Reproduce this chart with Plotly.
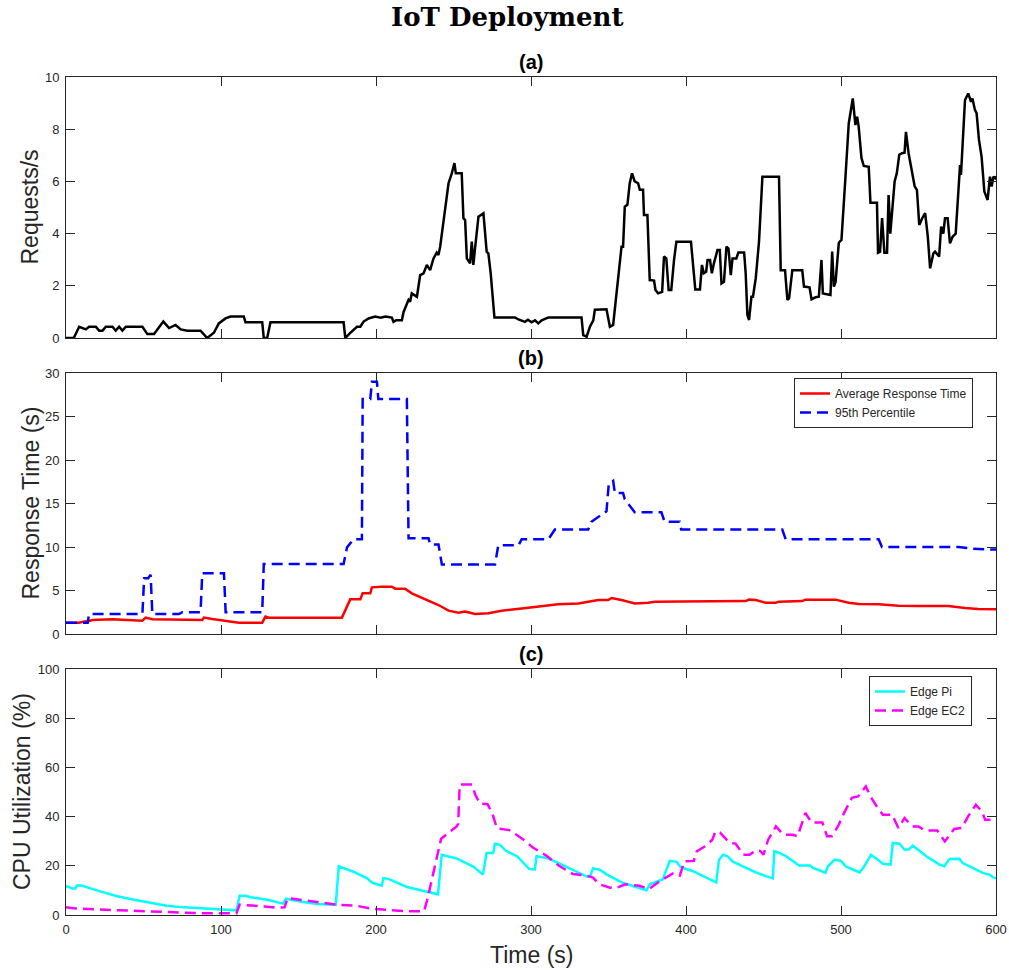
import plotly.graph_objects as go

# ---------------- data ----------------
req_t = [0, 5, 8.5, 12.8, 14.9, 19.2, 21.4, 23.5, 25.7, 30, 32.1, 34.3, 36.4, 38.6, 49.3, 52.5, 56.8,
         58.9, 62.8, 66.5, 70.7, 74, 78.3, 86.8, 91.1, 95.4, 98.6, 102.9, 106.2, 114.7, 115.8, 126.6,
         127.6, 129.8, 131.9, 179.1, 180.2, 183.4, 187.7, 189.9, 192, 195.2, 199.5, 203, 206, 210.2,
         211.3, 213, 216.7, 217.8, 219.9, 221, 222, 223.1, 226.4, 228.5, 230.7, 232.8, 234.9, 237.1,
         239.2, 240.3, 241.4, 244.6, 246.8, 248.9, 250.6, 251.5, 255.3, 256.4, 257.5, 258.6, 260.7,
         261.8, 262.8, 263.9, 266.1, 269.3, 271.4, 272.5, 274, 276.4, 289.7, 291.9, 296.1, 298, 300.4,
         302.6, 304.7, 306.9, 311.2, 332.6, 333.7, 335.9, 338, 340.2, 341.2, 348.7, 350.9, 353, 355.2,
         358.4, 359.4, 360.5, 362.2, 363.7, 365.2, 366.9, 369.1, 370.2, 372.3, 372.9, 375.1, 376.6,
         379.4, 380.3, 382, 384.6, 385.8, 387.3, 388.8, 390.5, 392.3, 393.8, 395.7, 403.2, 406, 409,
         410.3, 411.5, 413, 413.9, 415.5, 416.7, 418, 420.3, 421.8, 422.9, 424.5, 426.1, 427.4, 428.9,
         430, 432.5, 433.8, 437.5, 438.5, 439.6, 440.7, 442.2, 443.2, 445, 447.1, 449.3, 460, 461.1,
         463.9, 465.4, 466.5, 468.6, 475, 476.1, 479.7, 481, 483.5, 485.7, 487.4, 488.3, 493.2, 494.3,
         495.4, 496.5, 498.6, 500.3, 502.9, 505, 507.6, 509.3, 510.4, 511.4, 513.2, 514.7, 517.9, 519,
         523.2, 523.9, 525.2, 526.5, 528, 529.7, 530.7, 531.8, 534.6, 536, 537.6, 539.3, 541, 541.9,
         543.6, 545.7, 547.5, 549, 550.5, 552.4, 554.3, 556, 557.5, 559.6, 560.7, 563.3, 564.6, 566,
         567.1, 568.8, 570.3, 572, 574, 576.8, 577.4, 580, 582.1, 583.9, 584.8, 586.4, 587.5, 589,
         590.7, 592.5, 594.6, 596.1, 597.2, 598.3, 599.4, 600]
req_v = [0, 0, 0.43, 0.33, 0.43, 0.43, 0.28, 0.28, 0.43, 0.43, 0.28, 0.43, 0.28, 0.43, 0.43, 0.15, 0.15,
         0.33, 0.63, 0.38, 0.5, 0.33, 0.28, 0.28, 0, 0.2, 0.56, 0.75, 0.82, 0.82, 0.6, 0.6,
         0, 0, 0.6, 0.6, 0, 0.2, 0.43, 0.43, 0.63, 0.75, 0.82, 0.78, 0.82, 0.78,
         0.62, 0.68, 0.68, 1.0, 1.27, 1.46, 1.39, 1.71, 1.58, 2.41, 2.48, 2.8, 2.6, 3.05,
         3.27, 3.18, 3.5, 5.03, 5.93, 6.31, 6.7, 6.31, 6.31, 4.59, 4.52, 3.05, 2.86,
         3.69, 2.8, 3.43, 4.65, 4.78, 3.31, 3.24, 2.48, 0.79, 0.79, 0.71, 0.62, 0.7, 0.6,
         0.68, 0.56, 0.68, 0.79, 0.79, 0.11, 0.05, 0.43, 0.68, 1.08, 1.1, 0.43, 0.5, 1.71,
         3.5, 3.5, 5.03, 5.1, 5.93, 6.31, 6.0, 5.93, 5.68, 5.68, 4.71, 4.71, 2.22,
         2.2, 1.84, 1.71, 1.77, 3.12, 3.05, 1.84, 1.84, 3.0, 3.69, 3.69, 3.69, 1.86, 1.86,
         2.8, 2.48, 2.54, 2.99, 2.99, 2.48, 2.86, 3.37, 3.37, 2.09, 2.15, 3.5, 3.43, 2.41,
         3.05, 3.05, 3.28, 3.28, 2.48, 0.88, 0.69, 1.58, 1.58, 2.29, 3.69, 6.18, 6.18, 2.6,
         2.6, 1.46, 1.52, 2.6, 2.6, 1.97, 1.94, 1.48, 1.56, 1.58, 2.99, 1.71, 1.65, 3.31,
         1.97, 2.15, 3.65, 3.76, 6.18, 8.22, 9.18, 8.16, 8.48, 8.1, 6.9, 6.59, 6.56, 5.18,
         5.18, 3.27, 3.31, 4.59, 3.27, 3.27, 5.48, 4.0, 6.0, 6.31, 7.02, 7.08, 7.1, 7.9,
         7.08, 6.44, 5.82, 5.67, 4.33, 4.59, 4.78, 3.88, 2.67, 3.24, 3.31, 3.12, 4.27, 4.0,
         4.59, 4.59, 3.63, 3.88, 4.0, 6.63, 6.25, 9.12, 9.37, 9.05, 9.18, 8.74, 8.61, 7.6,
         6.95, 5.61, 5.29, 6.18, 5.8, 6.18, 6.12, 6.2]

avg_t = [0, 8.5, 12, 14.9, 17.1, 30, 49.3, 51.4, 55.7, 75, 87.9, 89, 94.4, 111.5, 126.6, 128.7, 130.8,
         178, 180.2, 183.4, 189.9, 191.4, 196.3, 197.4, 203, 210.2, 212.4, 218.8, 223.1, 232.8, 240.3,
         246.8, 253.2, 257.5, 263.9, 272.5, 281.1, 298.3, 311.2, 317.6, 330.5, 343.4, 349.8, 352, 358.4,
         367, 375.6, 379.9, 397.1, 417.1, 438.6, 440.7, 445, 451.4, 457.9, 460, 475, 477.1, 496.4, 505,
         511.4, 524.3, 537.2, 550, 569.3, 580, 588.6, 600]
avg_v = [1.3, 1.3, 1.45, 1.49, 1.61, 1.69, 1.53, 1.88, 1.69, 1.61, 1.61, 1.88, 1.72, 1.3, 1.3, 2.0, 1.88,
         1.88, 2.76, 3.98, 3.98, 4.67, 4.67, 5.36, 5.44, 5.44, 5.21, 5.21, 4.67, 3.9, 3.33,
         2.68, 2.45, 2.57, 2.3, 2.38, 2.68, 3.03, 3.26, 3.41, 3.52, 3.9, 3.9, 4.14, 3.9,
         3.52, 3.6, 3.72, 3.75, 3.79, 3.79, 3.95, 3.9, 3.6, 3.6, 3.72, 3.79, 3.95, 3.95, 3.6,
         3.45, 3.41, 3.26, 3.22, 3.22, 2.99, 2.87, 2.84]

p95_t = [0, 14, 14.9, 49.3, 50.4, 53, 54.6, 55.7, 72.9, 75, 86.8, 87.9, 101.9, 103, 126.6, 127.6,
         179.1, 181.3, 185.6, 190.9, 191.4, 196.3, 197.4, 200.6, 201.5, 219.9, 221, 233.9, 234.9,
         240.3, 242.5, 276.8, 278.9, 291.9, 294, 311.2, 315.4, 336.9, 339, 348.7, 350.2, 353, 354.1,
         359.4, 360.5, 366.9, 384.1, 386.2, 395.9, 396.9, 462.1, 464.3, 524.3, 526.4, 575.8, 585,
         597.3, 600]
p95_v = [1.3, 1.3, 2.3, 2.3, 6.4, 6.4, 6.8, 2.3, 2.3, 2.5, 2.5, 6.97, 6.97, 2.5, 2.5, 8.05,
         8.05, 9.96, 10.9, 10.9, 27, 27, 29, 29, 27, 27, 11, 11, 10.3,
         10.3, 8, 8, 10.2, 10.2, 10.9, 10.9, 12, 12, 12.9, 14.1, 17.3, 17.6, 16.2,
         16.2, 15.5, 14, 14, 12.9, 12.9, 12, 12, 10.9, 10.9, 10, 10, 9.8,
         9.7, 9.7]

pi_t = [0, 1, 4, 6, 7, 10, 22, 33, 44, 54, 65, 76, 87, 97, 110, 112, 116, 119, 130, 140, 142, 151, 162,
        174, 176, 185, 194, 198, 203.7, 204.8, 208, 220, 237, 240, 242.4, 245.5, 252, 263, 269, 271.3,
        275.6, 276.7, 280, 284, 291, 299, 302.5, 303.6, 310, 316.5, 327, 336, 338, 340, 344, 349,
        359.5, 370, 374.5, 376.6, 385, 389.5, 394, 396, 400, 404.5, 409, 413, 419.5, 421.3, 424, 427,
        430, 434.6, 439, 445, 452, 456, 457, 460, 464.6, 469, 473, 480, 482, 486, 490, 491.5, 496,
        500, 503, 507.6, 512, 515, 519.4, 523.7, 527, 532, 533.4, 537.7, 541, 544, 546.3, 550.6, 555,
        559, 563.5, 566.7, 570, 576.4, 578.5, 583, 587, 591.4, 595.7, 599, 600]
pi_v = [11.6, 11.6, 10.8, 10.8, 12, 12, 9.6, 7.6, 6.2, 5.0, 3.8, 3.1, 2.7, 2.4, 1.9, 7.8, 7.8, 7.2, 6.2,
        4.6, 6.6, 5.5, 4.5, 4.1, 19.8, 17.7, 15, 13, 11.9, 15, 14.7, 11.4, 8.7, 8.4, 24.5, 24, 23,
        19.6, 16.4, 25.2, 25.2, 29, 28.5, 26, 23.9, 18.7, 18.5, 23.9, 23.2, 21.5, 18.5, 15.6, 15.6,
        18.9, 18.5, 16.4, 13, 11.1, 10.1, 12.5, 14.5, 22, 21.6, 19.8, 18.7, 17.8, 16.4, 15, 13.3,
        22.5, 24.5, 23.8, 21.8, 20.4, 19.1, 17.3, 15.7, 14.9, 25.9, 25.3, 23.9, 21.8, 20.1, 20.1,
        19.1, 18.2, 17.1, 19.8, 22.5, 22, 19.8, 18.5, 17.3, 19.8, 24.5, 22.5, 20.8, 20.5, 29.3, 29,
        26.5, 26.7, 28.2, 26.1, 23.9, 22.3, 20.5, 19.8, 22.8, 22.9, 21.1, 19.8, 18.5, 17.1, 16.4, 15,
        15]

ec2_t = [0, 5, 22, 33, 44, 65, 87, 110, 112, 120, 128, 135, 141, 143, 151, 162, 168, 175, 187, 198,
         220, 231, 233, 237, 240, 242, 252, 253, 254, 262, 264, 267, 272, 275, 278, 286, 292, 297, 301,
         310, 318, 327, 336, 340, 344, 351, 355, 361, 370, 376, 383, 392, 396, 399, 405, 407, 413, 417,
         419, 422, 428, 432, 437, 441, 445, 448, 450, 453, 458, 463, 469, 472, 477, 481, 488, 491, 494,
         498, 502, 507, 511, 516, 519, 523, 527, 533, 537, 541, 546, 550, 554, 562, 567, 573, 578, 582,
         587, 591, 593, 597, 600]
ec2_v = [3.2, 2.7, 2.2, 1.9, 1.5, 1.2, 0.7, 0.7, 4.2, 4.0, 3.5, 3.0, 3.1, 6.9, 6.2, 5.5, 4.9, 4.2, 3.8,
         2.5, 1.5, 1.5, 6, 17, 25, 31, 36, 37, 53, 53, 49, 45.3, 45, 41.3, 35.2, 34.5, 32, 29.8, 27.5,
         24.1, 20, 16.7, 16, 15.2, 12.5, 11.1, 11, 12.5, 11.9, 10.5, 13.7, 17.1, 16, 21.8, 22, 25.9,
         28.2, 30.6, 34, 33.5, 29.4, 29, 24.5, 24.5, 26.3, 26, 24.5, 30.6, 36, 32.6, 32.6, 32, 41.5,
         37.6, 37.6, 32, 32, 36, 41.5, 47.6, 48.2, 52.3, 48.2, 44.2, 40.8, 40.8, 35.4, 39.4, 36, 36,
         34.4, 34.4, 29.9, 35, 35.4, 40.1, 44.8, 42, 38.7, 38.7, 38]

x_ticks = [0, 100, 200, 300, 400, 500, 600]

# ---------------- figure ----------------
W, H = 1009, 970
L, R = 66, 996
panels = {"a": (77, 338), "b": (373, 634), "c": (669, 915)}
AX = "#262626"
FONT = "Liberation Sans, Arial, Helvetica, sans-serif"


def ydom(top, bot):
    return [1 - bot / H, 1 - top / H]


fig = go.Figure()
fig.add_trace(go.Scatter(x=req_t, y=req_v, mode="lines", line=dict(color="black", width=2.5),
                         showlegend=False, xaxis="x", yaxis="y"))
fig.add_trace(go.Scatter(x=avg_t, y=avg_v, mode="lines", name="Average Response Time",
                         line=dict(color="#ff0000", width=2.5), xaxis="x2", yaxis="y2", legend="legend"))
fig.add_trace(go.Scatter(x=p95_t, y=p95_v, mode="lines", name="95th Percentile",
                         line=dict(color="#0000ff", width=2.5, dash="11px,6px"), xaxis="x2", yaxis="y2",
                         legend="legend"))
fig.add_trace(go.Scatter(x=pi_t, y=pi_v, mode="lines", name="Edge Pi",
                         line=dict(color="#00ffff", width=2.5), xaxis="x3", yaxis="y3", legend="legend2"))
fig.add_trace(go.Scatter(x=ec2_t, y=ec2_v, mode="lines", name="Edge EC2",
                         line=dict(color="#ff00ff", width=2.5, dash="11px,6px"), xaxis="x3", yaxis="y3",
                         legend="legend2"))

common_x = dict(range=[0, 600], tickvals=x_ticks, ticks="inside", ticklen=9, tickcolor=AX,
                showline=True, linecolor=AX, linewidth=1, mirror="ticks", showgrid=False, zeroline=False,
                automargin=False, domain=[L / W, R / W], tickfont=dict(family=FONT, size=13, color=AX))
common_y = dict(ticks="inside", ticklen=9, tickcolor=AX, showline=True, linecolor=AX, linewidth=1,
                mirror="ticks", showgrid=False, zeroline=False, ticklabelstandoff=3, automargin=False,
                tickfont=dict(family=FONT, size=13, color=AX))

layout = dict(
    width=W, height=H, margin=dict(l=0, r=0, t=0, b=0, autoexpand=False),
    paper_bgcolor="white", plot_bgcolor="white",
    font=dict(family=FONT, color=AX),
    xaxis=dict(common_x, anchor="y", showticklabels=False),
    xaxis2=dict(common_x, anchor="y2", showticklabels=False),
    xaxis3=dict(common_x, anchor="y3", showticklabels=True, ticklabelstandoff=2),
    yaxis=dict(common_y, anchor="x", range=[0, 10], tickvals=[0, 2, 4, 6, 8, 10],
               domain=ydom(*panels["a"])),
    yaxis2=dict(common_y, anchor="x2", range=[0, 30], tickvals=[0, 5, 10, 15, 20, 25, 30],
                domain=ydom(*panels["b"])),
    yaxis3=dict(common_y, anchor="x3", range=[0, 100], tickvals=[0, 20, 40, 60, 80, 100],
                domain=ydom(*panels["c"])),
    legend=dict(x=973 / W, y=1 - 378 / H, xanchor="right", yanchor="top", bgcolor="white",
                bordercolor="#262626", borderwidth=1, font=dict(family=FONT, size=12, color=AX),
                tracegroupgap=0, itemwidth=30),
    legend2=dict(x=972 / W, y=1 - 676 / H, xanchor="right", yanchor="top", bgcolor="white",
                 bordercolor="#262626", borderwidth=1, font=dict(family=FONT, size=12, color=AX),
                 tracegroupgap=0, itemwidth=30),
)
fig.update_layout(**layout)

ann = []
ann.append(dict(text="<b>IoT Deployment</b>", x=0.5 * (388 + 627) / W, y=1 - 17 / H, xref="paper",
                yref="paper", showarrow=False, xanchor="center", yanchor="middle",
                font=dict(family="DejaVu Serif, serif", size=26, color="black")))
for lab, (top, bot) in panels.items():
    ann.append(dict(text="<b>(%s)</b>" % lab, x=(L + R) / 2 / W, y=1 - (top - 2) / H, xref="paper",
                    yref="paper", showarrow=False, xanchor="center", yanchor="bottom",
                    font=dict(family=FONT, size=20, color="black")))
ytitles = [("Requests/s", 29, panels["a"]), ("Response Time (s)", 30, panels["b"]),
           ("CPU Utilization (%)", 22, panels["c"])]
for txt, xc, (top, bot) in ytitles:
    ann.append(dict(text=txt, x=xc / W, y=1 - (top + bot) / 2 / H, xref="paper", yref="paper",
                    showarrow=False, textangle=-90, xanchor="center", yanchor="middle",
                    font=dict(family=FONT, size=23, color=AX)))
ann.append(dict(text="Time (s)", x=(L + R) / 2 / W, y=1 - 955 / H, xref="paper", yref="paper",
                showarrow=False, xanchor="center", yanchor="middle",
                font=dict(family=FONT, size=23, color=AX)))
fig.update_layout(annotations=ann)

fig.write_html("out.html",
               post_script="document.body.style.margin='0';document.body.style.overflow='hidden';"
                           "document.documentElement.style.overflow='hidden';")
